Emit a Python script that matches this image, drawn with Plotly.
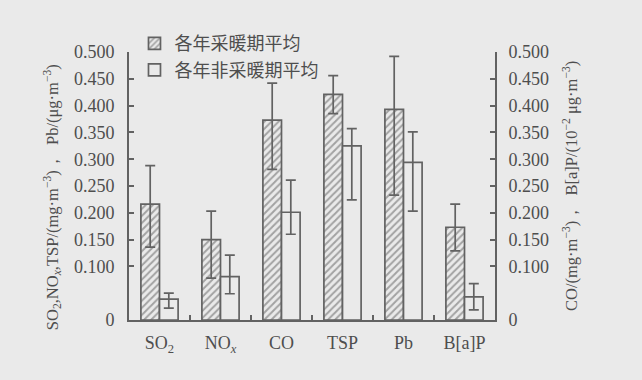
import plotly.graph_objects as go

categories = ["SO<sub>2</sub>", "NO<sub><i>x</i></sub>", "CO", "TSP", "Pb", "B[a]P"]
heating = [0.216, 0.150, 0.373, 0.421, 0.393, 0.173]
heating_plus = [0.072, 0.053, 0.069, 0.035, 0.099, 0.043]
heating_minus = [0.080, 0.072, 0.092, 0.036, 0.160, 0.044]
nonheating = [0.039, 0.081, 0.201, 0.325, 0.294, 0.043]
nonheating_plus = [0.011, 0.040, 0.060, 0.032, 0.057, 0.025]
nonheating_minus = [0.017, 0.032, 0.041, 0.101, 0.091, 0.024]
tick_vals = [0, 0.1, 0.15, 0.2, 0.25, 0.3, 0.35, 0.4, 0.45, 0.5]
tick_text = ["0", "0.100", "0.150", "0.200", "0.250", "0.300", "0.350", "0.400", "0.450", "0.500"]

INK = "#4e4e4e"
LINE = "#626262"
BG = "#eaeaea"
SERIF = "Liberation Serif, Times New Roman, serif"
CJK = "Noto Sans CJK SC, sans-serif"

fig = go.Figure()
fig.add_trace(go.Bar(
    x=categories, y=heating, name="各年采暖期平均",
    marker=dict(color=BG, line=dict(color=LINE, width=1.7),
                pattern=dict(shape="/", fgcolor="#5a5a5a", bgcolor=BG, size=5, solidity=0.4)),
    error_y=dict(type="data", array=heating_plus, arrayminus=heating_minus,
                 color=LINE, thickness=1.7, width=5),
))
fig.add_trace(go.Bar(
    x=categories, y=nonheating, name="各年非采暖期平均",
    marker=dict(color=BG, line=dict(color=LINE, width=1.7)),
    error_y=dict(type="data", array=nonheating_plus, arrayminus=nonheating_minus,
                 color=LINE, thickness=1.7, width=5),
))

axis_common = dict(range=[0, 0.5], tickvals=tick_vals, ticktext=tick_text,
                   ticks="inside", ticklen=5, tickwidth=1.5, tickcolor=LINE,
                   showline=True, linecolor=LINE, linewidth=1.7, showgrid=False,
                   zeroline=False, tickfont=dict(family=SERIF, size=18, color=INK))

fig.update_layout(
    width=642, height=380,
    margin=dict(l=129, r=147, t=52, b=60),
    paper_bgcolor=BG, plot_bgcolor=BG,
    barmode="group", bargap=0.39, bargroupgap=0,
    xaxis=dict(showline=True, linecolor=LINE, linewidth=1.7, ticks="inside",
               tickson="boundaries", ticklen=5, tickwidth=1.5, tickcolor=LINE,
               showgrid=False, ticklabelstandoff=6,
               tickfont=dict(family=SERIF, size=18, color=INK)),
    yaxis=dict(**axis_common, ticklabelstandoff=9),
    yaxis2=dict(**axis_common, overlaying="y", side="right", anchor="x",
                ticklabelstandoff=8),
    legend=dict(x=0.015, y=1.1, xanchor="left", yanchor="top",
                bgcolor="rgba(0,0,0,0)", font=dict(family=CJK, size=18, color=INK),
                itemwidth=30, tracegroupgap=0),
    showlegend=True,
    annotations=[
        dict(xref="paper", yref="paper", x=-0.212, y=0.46, xanchor="center", yanchor="middle",
             textangle=-90, showarrow=False,
             text="SO<sub>2</sub>,NO<sub><i>x</i></sub>,TSP/(mg·m<sup>−3</sup>)，  Pb/(μg·m<sup>−3</sup>)",
             font=dict(family=SERIF, size=16.5, color=INK)),
        dict(xref="paper", yref="paper", x=1.205, y=0.5, xanchor="center", yanchor="middle",
             textangle=-90, showarrow=False,
             text="CO/(mg·m<sup>−3</sup>)，  B[a]P/(10<sup>−2</sup> μg·m<sup>−3</sup>)",
             font=dict(family=SERIF, size=16.5, color=INK)),
    ],
)
# invisible helper so the right axis is rendered
fig.add_trace(go.Scatter(x=[categories[0]], y=[0], yaxis="y2", mode="markers",
                         marker=dict(opacity=0), showlegend=False, hoverinfo="skip"))

fig.write_html("out.html")
